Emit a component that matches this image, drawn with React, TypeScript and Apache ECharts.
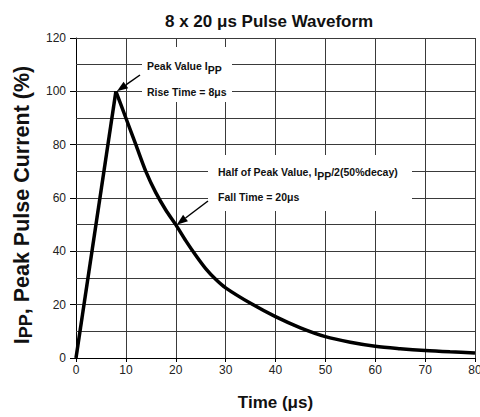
import React, { useEffect, useRef } from "react";
import * as echarts from "echarts";

const riseTimes = [0, 8];
const riseValues = [0, 100];
const decayTimes = [8, 10, 12, 14, 16, 18, 20, 22, 24, 26, 28, 30, 35, 40, 45, 50, 55, 60, 65, 70, 75, 80];
const decayValues = [100, 90, 80, 70, 62, 55.5, 50, 44, 38.5, 33.5, 29.5, 26.3, 20.5, 15.5, 11.3, 8, 5.9, 4.4, 3.5, 2.8, 2.3, 1.9];
const peakPoint = [8, 100];
const halfPoint = [20, 50];
const xGridValues = [10, 20, 30, 40, 50, 60, 70, 80];
const yGridValues = [10, 20, 30, 40, 50, 60, 70, 80, 90, 100, 110, 120];

const titleText = "8 x 20 \u03bcs Pulse Waveform";
const xName = "Time (\u03bcs)";
const FONT = "Arial, 'Liberation Sans', Helvetica, sans-serif";

function arrow(from: number[], to: number[]) {
  const dx = to[0] - from[0];
  const dy = to[1] - from[1];
  const len = Math.sqrt(dx * dx + dy * dy);
  const ux = dx / len;
  const uy = dy / len;
  const hl = 11;
  const hw = 4;
  const bx = to[0] - ux * hl;
  const by = to[1] - uy * hl;
  return [
    { type: "line", shape: { x1: from[0], y1: from[1], x2: bx, y2: by }, style: { stroke: "#000", lineWidth: 1.5 }, z: 20 },
    {
      type: "polygon",
      shape: { points: [[to[0], to[1]], [bx - uy * hw, by + ux * hw], [bx + uy * hw, by - ux * hw]] },
      style: { fill: "#000" },
      z: 20,
    },
  ];
}

export default function App() {
  const ref = useRef<HTMLDivElement>(null);
  useEffect(() => {
    if (!ref.current) return;
    const chart = echarts.init(ref.current, null, { renderer: "svg" });
    const gridColor = "#3a3a3a";
    chart.setOption({
      animation: false,
      backgroundColor: "#fff",
      title: {
        text: titleText,
        left: 160,
        top: 8,
        textStyle: { fontFamily: FONT, fontWeight: "bold", fontSize: 17, color: "#111" },
      },
      grid: { left: 76, right: 5, top: 38, bottom: 59, containLabel: false, outerBoundsMode: "none" },
      xAxis: {
        type: "value",
        min: 0,
        max: 80,
        interval: 10,
        name: xName,
        nameLocation: "middle",
        nameGap: 36,
        nameTextStyle: { fontFamily: FONT, fontWeight: "bold", fontSize: 17, color: "#111" },
        axisLine: { show: true, onZero: false, lineStyle: { color: "#000", width: 1 } },
        axisTick: { show: true, length: 4, lineStyle: { color: "#000" } },
        axisLabel: { fontFamily: FONT, fontSize: 12, color: "#222", margin: 6 },
        splitLine: { show: false },
      },
      yAxis: {
        type: "value",
        min: 0,
        max: 120,
        interval: 20,
        name: "{a|I}{s|PP}{a|, Peak Pulse Current (%)}",
        nameLocation: "middle",
        nameGap: 39,
        nameTextStyle: {
          fontFamily: FONT,
          fontWeight: "bold",
          fontSize: 21.5,
          color: "#111",
          padding: [0, 14, 0, 0],
          rich: {
            a: { fontFamily: FONT, fontWeight: "bold", fontSize: 21.5, color: "#111" },
            s: { fontFamily: FONT, fontWeight: "bold", fontSize: 18, color: "#111", padding: [9, 0, 0, 0] },
          },
        },
        axisLine: { show: true, onZero: false, lineStyle: { color: "#000", width: 1 } },
        axisTick: { show: true, length: 6, lineStyle: { color: "#000" } },
        axisLabel: { fontFamily: FONT, fontSize: 12, color: "#222", margin: 10 },
        splitLine: { show: false },
      },
      series: [
        {
          type: "line",
          name: "grid",
          data: [[0, 0]],
          showSymbol: false,
          lineStyle: { opacity: 0 },
          silent: true,
          z: 1,
          markLine: {
            silent: true,
            symbol: "none",
            label: { show: false },
            lineStyle: { color: gridColor, width: 1, type: "solid" },
            data: [
              ...xGridValues.map((v) => ({ xAxis: v })),
              ...yGridValues.map((v) => ({ yAxis: v })),
            ],
          },
        },
        { type: "line", data: riseTimes.map((t, i) => [t, riseValues[i]]), showSymbol: false, lineStyle: { color: "#000", width: 3.5 }, z: 5 },
        { type: "line", data: decayTimes.map((t, i) => [t, decayValues[i]]), showSymbol: false, smooth: 0.3, lineStyle: { color: "#000", width: 3.5 }, z: 5 },
      ],
    });

    const peak = chart.convertToPixel({ gridIndex: 0 }, peakPoint) as number[];
    const half = chart.convertToPixel({ gridIndex: 0 }, halfPoint) as number[];
    const labelFont = { fontFamily: FONT, fontWeight: "bold", fontSize: 10.5, fill: "#111" };
    const rich = {
      a: { fontFamily: FONT, fontWeight: "bold", fontSize: 10.5, color: "#111" },
      s: { fontFamily: FONT, fontWeight: "bold", fontSize: 10.5, color: "#111", padding: [7, 0, 0, 0] },
    };
    chart.setOption({
      graphic: [
        { type: "rect", shape: { x: 142, y: 47, width: 90, height: 55 }, style: { fill: "#fff" }, z: 10 },
        { type: "rect", shape: { x: 208, y: 155, width: 204, height: 56 }, style: { fill: "#fff" }, z: 10 },
        { type: "text", x: 147, y: 66, style: { text: "{a|Peak Value I}{s|PP}", rich, ...labelFont, verticalAlign: "middle" }, z: 15 },
        { type: "text", x: 147, y: 92, style: { text: "Rise Time = 8\u03bcs", ...labelFont, verticalAlign: "middle" }, z: 15 },
        { type: "text", x: 218, y: 172, style: { text: "{a|Half of Peak Value, I}{s|PP}{a|/2(50%decay)}", rich, ...labelFont, verticalAlign: "middle" }, z: 15 },
        { type: "text", x: 218, y: 197, style: { text: "Fall Time = 20\u03bcs", ...labelFont, verticalAlign: "middle" }, z: 15 },
        ...arrow([140, 75], [peak[0] + 1, peak[1]]),
        ...arrow([208, 201], [half[0] + 1, half[1]]),
      ],
    });
    return () => chart.dispose();
  }, []);
  return <div ref={ref} style={{ position: "fixed", left: 0, top: 0, width: 480, height: 417 }} />;
}
